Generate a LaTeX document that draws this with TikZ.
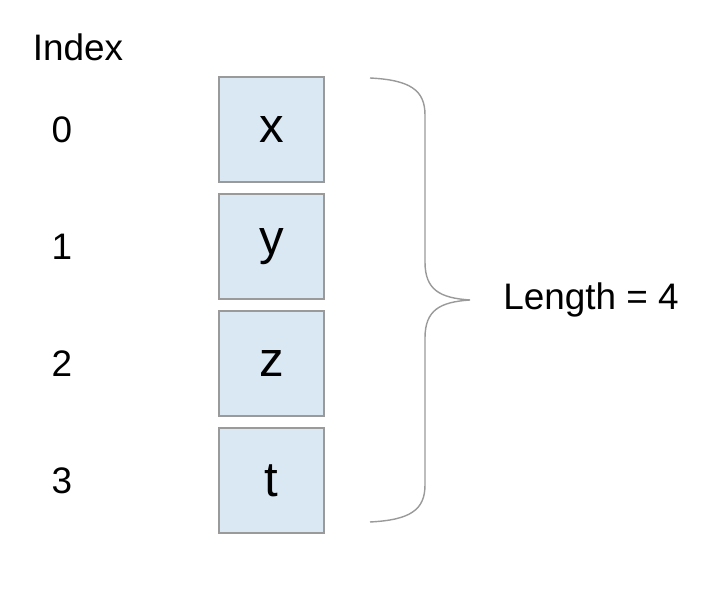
\documentclass[tikz,border=0pt]{standalone}
\usepackage{fontspec}
\setmainfont{Liberation Sans}
\definecolor{cellfill}{HTML}{DAE8F4}
\definecolor{cellline}{HTML}{9A9A9A}
\begin{document}
\begin{tikzpicture}[x=0.02cm,y=-0.02cm,
    cell/.style={draw=cellline, fill=cellfill, line width=0.8pt, minimum size=2.1cm, inner sep=0pt, font=\fontsize{28}{32}\selectfont},
    idx/.style={font=\fontsize{21}{25}\selectfont}]
    \useasboundingbox (0,0) rectangle (708,594);
    \node[idx] (title) at (78,47) {Index};
    %cells
    \foreach \i/\v in {0/x,1/y,2/z,3/t} {
        \node[cell] (b\i) at (271.5,129.5+117*\i) {\v};
        \node[idx] (i\i) at (62,129.5+117*\i) {\i};
    }
    %brace
    \draw[cellline, line width=0.8pt] (370,78) .. controls (410,80) and (425,90) .. (425,115)
        -- (425,262) .. controls (425,290) and (440,298) .. (470,300)
        .. controls (440,302) and (425,310) .. (425,338)
        -- (425,485) .. controls (425,510) and (410,520) .. (370,522);
    \node[idx] (len) at (591,300) {Length = 4};
\end{tikzpicture}
\end{document}
